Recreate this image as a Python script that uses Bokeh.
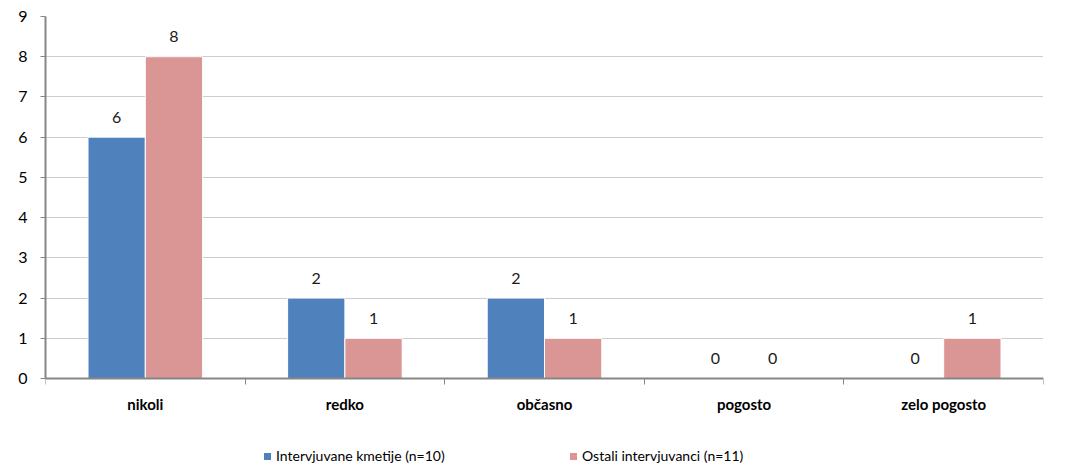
from bokeh.plotting import figure
from bokeh.models import (ColumnDataSource, Range1d, FixedTicker, Legend, LegendItem)
from bokeh.transform import dodge
from bokeh.embed import file_html
from bokeh.resources import INLINE

categories = ["nikoli", "redko", "občasno", "pogosto", "zelo pogosto"]
series_a_name = "Intervjuvane kmetije (n=10)"
series_b_name = "Ostali intervjuvanci (n=11)"
series_a = [6, 2, 2, 0, 0]
series_b = [8, 1, 1, 0, 1]
y_ticks = [0, 1, 2, 3, 4, 5, 6, 7, 8, 9]

FONT = "Lato"
BLUE = "#4F81BD"
PINK = "#D99694"
AXIS = "#868686"

W, H = 1077, 466
TOP, LEFT, RIGHT = 16, 45, 34
ZERO_PX = 378  # pixel row of value 0
y_max = 9
y_min = -(H - ZERO_PX) * y_max / (ZERO_PX - TOP)

xs = [i + 0.5 for i in range(len(categories))]
src = ColumnDataSource(dict(x=xs, a=series_a, b=series_b,
                            a_lbl=[str(v) for v in series_a],
                            b_lbl=[str(v) for v in series_b]))

p = figure(width=W, height=H, output_backend="svg", toolbar_location=None,
           x_range=Range1d(0, len(categories)), y_range=Range1d(y_min, y_max))
p.min_border_left = LEFT
p.min_border_top = TOP
p.min_border_right = RIGHT
p.min_border_bottom = 0
p.outline_line_color = None
p.background_fill_color = "white"
p.border_fill_color = "white"

bw = 0.287
ra = p.vbar(x=dodge("x", -bw / 2, range=p.x_range), top="a", width=bw, source=src,
            fill_color=BLUE, line_color="white", line_width=1)
rb = p.vbar(x=dodge("x", bw / 2, range=p.x_range), top="b", width=bw, source=src,
            fill_color=PINK, line_color="white", line_width=1)

for col, lbl, off in (("a", "a_lbl", -bw / 2), ("b", "b_lbl", bw / 2)):
    p.text(x=dodge("x", off, range=p.x_range), y=col, text=lbl, source=src,
           text_align="center", text_baseline="middle", y_offset=-20,
           text_font_size="16px", text_color="#1a1a1a", text_font={"value": FONT})

# x axis, pinned at value 0
p.xaxis.fixed_location = 0
p.xaxis.ticker = FixedTicker(ticks=xs, minor_ticks=list(range(len(categories) + 1)))
p.xaxis.major_label_overrides = {x: c for x, c in zip(xs, categories)}
p.xaxis.major_tick_line_alpha = 0
p.xaxis.major_tick_out = 0
p.xaxis.major_tick_in = 0
p.xaxis.minor_tick_out = 6
p.xaxis.minor_tick_in = 0
p.xaxis.minor_tick_line_color = AXIS
p.xaxis.minor_tick_line_width = 1
p.xaxis.axis_line_color = AXIS
p.xaxis.axis_line_width = 2
p.xaxis.major_label_text_font = FONT
p.xaxis.major_label_text_font_style = "bold"
p.xaxis.major_label_text_font_size = "15px"
p.xaxis.major_label_text_color = "#000000"
p.xaxis.major_label_standoff = 10

# y axis
p.yaxis.bounds = (0, y_max)
p.yaxis.ticker = FixedTicker(ticks=y_ticks)
p.yaxis.minor_tick_line_color = None
p.yaxis.major_tick_out = 5
p.yaxis.major_tick_in = 0
p.yaxis.major_tick_line_color = AXIS
p.yaxis.axis_line_color = AXIS
p.yaxis.axis_line_width = 2
p.yaxis.major_label_text_font = FONT
p.yaxis.major_label_text_font_size = "16px"
p.yaxis.major_label_text_color = "#000000"
p.yaxis.major_label_standoff = 13

p.xgrid.grid_line_color = None
p.ygrid.ticker = FixedTicker(ticks=y_ticks[1:])
p.ygrid.grid_line_color = "#9A9A9A"
p.ygrid.grid_line_dash = "1 1"
p.ygrid.grid_line_width = 1

for r, name, loc in ((ra, series_a_name, (217, 2)), (rb, series_b_name, (523, 2))):
    lg = Legend(items=[LegendItem(label=name, renderers=[r])], location=loc,
                orientation="horizontal", padding=0, margin=0, spacing=0,
                glyph_width=10, glyph_height=10, label_standoff=4,
                label_text_font=FONT, label_text_font_size="14px",
                label_text_color="#000000", border_line_color=None,
                background_fill_alpha=0, label_height=10)
    p.add_layout(lg, "center")

open("out.html", "w").write(file_html(p, INLINE))
